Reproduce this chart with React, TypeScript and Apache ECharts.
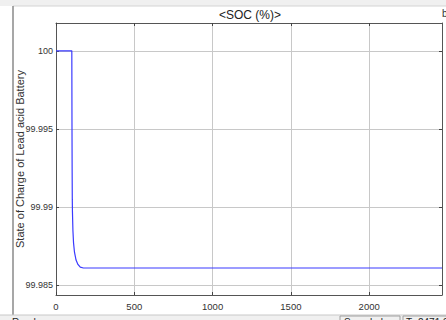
import React, { useEffect, useRef } from "react";
import * as echarts from "echarts";

const timeValues = [0, 101, 102, 103, 104, 105, 108, 112, 118, 128, 140, 155, 175, 2465];
const socValues = [100, 100, 99.9955, 99.9925, 99.9905, 99.9897, 99.9885, 99.9877, 99.9871, 99.9866, 99.98632, 99.98614, 99.98609, 99.98609];
const xTicks = [0, 500, 1000, 1500, 2000];
const yTicks = [99.985, 99.99, 99.995, 100];

const FONT = "Liberation Sans, Arial, sans-serif";

export default function App() {
  const ref = useRef<HTMLDivElement>(null);
  useEffect(() => {
    const chart = echarts.init(ref.current!, null, { renderer: "svg" });
    const data = timeValues.map((t, i) => [t, socValues[i]]);
    const axisLineStyle = { color: "#555", width: 1 };
    chart.setOption({
      animation: false,
      backgroundColor: "#ffffff",
      textStyle: { fontFamily: FONT },
      title: {
        text: "<SOC (%)>",
        left: 250,
        top: 9,
        padding: 0,
        textAlign: "center",
        textStyle: { fontSize: 12, fontWeight: "normal", color: "#222", fontFamily: FONT },
      },
      grid: { left: 56, top: 23, width: 386, height: 272, containLabel: false, outerBoundsMode: "none" },
      xAxis: [
        {
          type: "value",
          min: 0,
          max: 2465,
          axisLine: { show: true, onZero: false, lineStyle: axisLineStyle },
          axisTick: { show: true, inside: true, length: 3, lineStyle: { color: "#444" }, customValues: xTicks },
          axisLabel: {
            customValues: xTicks,
            fontSize: 9.5,
            color: "#333",
            margin: 6,
            fontFamily: FONT,
            formatter: (v: number) => String(Math.round(v)),
          },
          splitLine: { show: true, lineStyle: { color: "#c8c8c8", width: 1 } },
        },
        {
          type: "value",
          position: "top",
          min: 0,
          max: 2465,
          axisLine: { show: true, onZero: false, lineStyle: axisLineStyle },
          axisTick: { show: true, inside: true, length: 3, lineStyle: { color: "#444" }, customValues: xTicks },
          axisLabel: { show: false },
          splitLine: { show: false },
        },
      ],
      yAxis: [
        {
          type: "value",
          min: 99.98436,
          max: 100.00178,
          name: "State of Charge of Lead acid Battery",
          nameLocation: "middle",
          nameGap: 31,
          nameMoveOverlap: false,
          nameTextStyle: { fontSize: 11, color: "#333", fontFamily: FONT },
          axisLine: { show: true, onZero: false, lineStyle: axisLineStyle },
          axisTick: { show: true, inside: true, length: 3, lineStyle: { color: "#444" }, customValues: yTicks },
          axisLabel: {
            customValues: yTicks,
            fontSize: 9,
            color: "#333",
            margin: 3,
            fontFamily: FONT,
            formatter: (v: number) => String(parseFloat(v.toFixed(3))),
          },
          splitLine: { show: true, lineStyle: { color: "#c8c8c8", width: 1 } },
        },
        {
          type: "value",
          position: "right",
          min: 99.98436,
          max: 100.00178,
          axisLine: { show: true, onZero: false, lineStyle: axisLineStyle },
          axisTick: { show: true, inside: true, length: 3, lineStyle: { color: "#444" }, customValues: yTicks },
          axisLabel: { show: false },
          splitLine: { show: false },
        },
      ],
      series: [
        {
          type: "line",
          data,
          showSymbol: false,
          smooth: false,
          lineStyle: { color: "#3a3aff", width: 1.2 },
          xAxisIndex: 0,
          yAxisIndex: 0,
        },
      ],
      graphic: [
        { type: "rect", shape: { x: 0, y: 0, width: 446, height: 6 }, style: { fill: "#f0f0f0" }, silent: true },
        { type: "line", shape: { x1: 13, y1: 6, x2: 446, y2: 6 }, style: { stroke: "#d4d4d4", lineWidth: 1 }, silent: true },
        { type: "line", shape: { x1: 13, y1: 6, x2: 13, y2: 315 }, style: { stroke: "#8a8a8a", lineWidth: 1.5 }, silent: true },
        { type: "text", x: 442, y: 8, style: { text: "b", fontSize: 10, fill: "#333", fontFamily: FONT }, silent: true },
        { type: "rect", shape: { x: 0, y: 315, width: 446, height: 5 }, style: { fill: "#f0f0f0" }, silent: true },
        { type: "line", shape: { x1: 0, y1: 315, x2: 446, y2: 315 }, style: { stroke: "#c8c8c8", lineWidth: 1 }, silent: true },
        { type: "text", x: 12, y: 317, style: { text: "Ready", fontSize: 10, fill: "#222", fontFamily: FONT }, silent: true },
        { type: "rect", shape: { x: 340, y: 316, width: 60, height: 6 }, style: { fill: "#f0f0f0", stroke: "#a0a0a0", lineWidth: 1 }, silent: true },
        { type: "text", x: 344, y: 317, style: { text: "Sample based", fontSize: 10, fill: "#222", fontFamily: FONT }, silent: true },
        { type: "rect", shape: { x: 403, y: 316, width: 50, height: 6 }, style: { fill: "#f0f0f0", stroke: "#a0a0a0", lineWidth: 1 }, silent: true },
        { type: "text", x: 406, y: 317, style: { text: "T=2471.900", fontSize: 10, fill: "#222", fontFamily: FONT }, silent: true },
      ],
    });
    return () => chart.dispose();
  }, []);
  return (
    <div
      ref={ref}
      style={{ position: "fixed", left: 0, top: 0, width: 446, height: 320 }}
    />
  );
}
